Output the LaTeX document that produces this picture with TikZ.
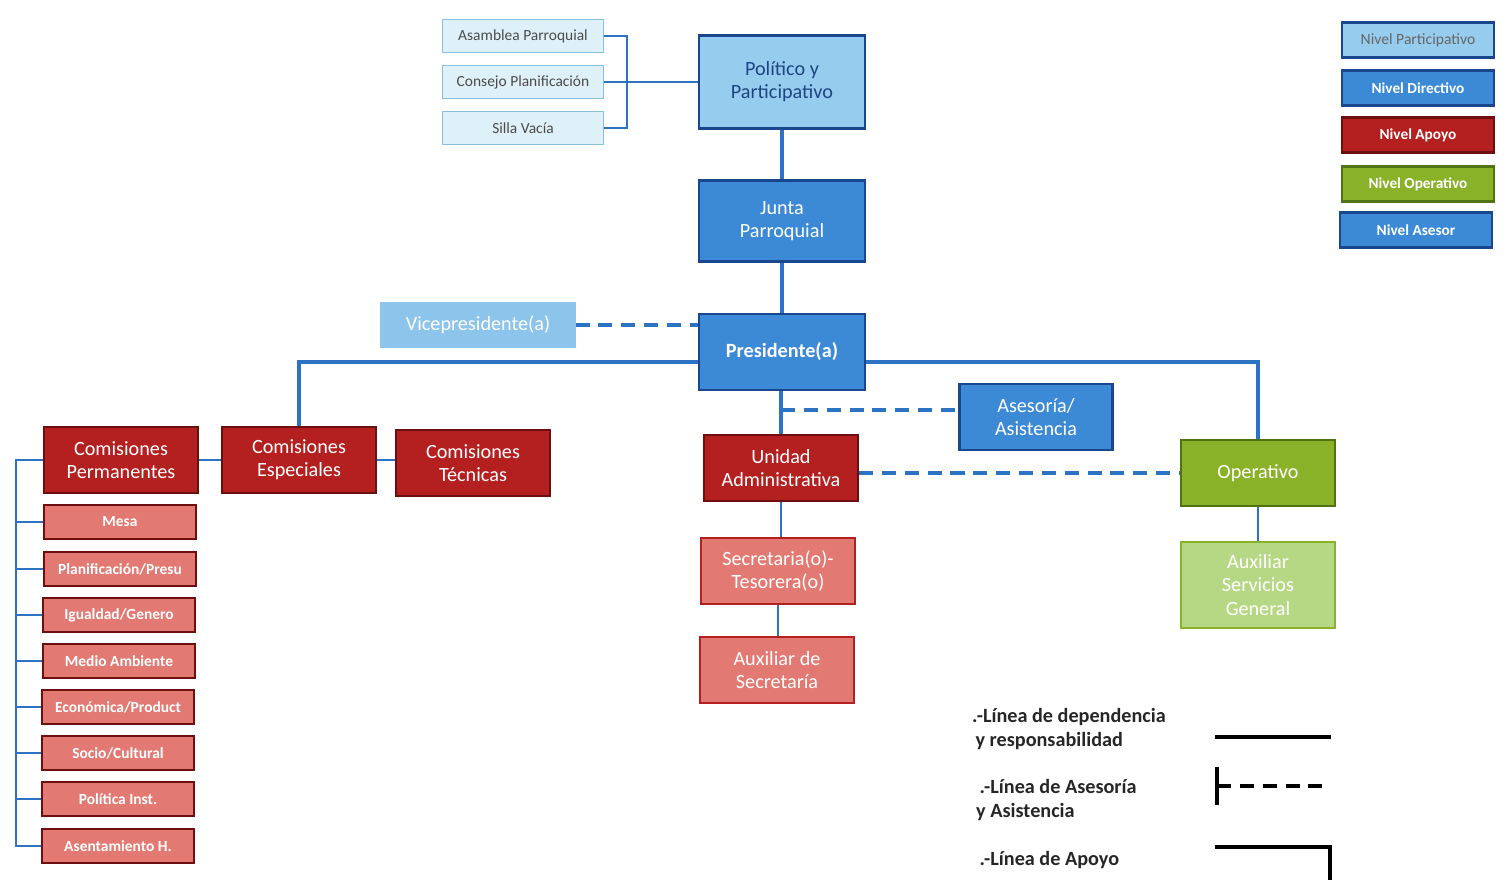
\documentclass[tikz,border=0pt]{standalone}
\usepackage{fontspec}
\setmainfont{Carlito}
\usepackage{tikz}
\usetikzlibrary{positioning}
\definecolor{linkblue}{RGB}{45,115,195}
\definecolor{partfill}{RGB}{150,205,238}
\definecolor{partdraw}{RGB}{140,190,222}
\definecolor{partpale}{RGB}{222,240,248}
\definecolor{partext}{RGB}{30,70,130}
\definecolor{vicefill}{RGB}{140,196,236}
\definecolor{dirfill}{RGB}{60,138,214}
\definecolor{dirdraw}{RGB}{25,70,140}
\definecolor{apofill}{RGB}{180,32,32}
\definecolor{apodraw}{RGB}{110,15,15}
\definecolor{apolight}{RGB}{226,122,115}
\definecolor{opefill}{RGB}{138,178,40}
\definecolor{opedraw}{RGB}{80,115,20}
\definecolor{opelight}{RGB}{182,216,132}
\tikzstyle{link} = [draw=linkblue, line width=2pt]
\tikzstyle{thinlink} = [draw=linkblue, line width=1.2pt]
\tikzstyle{advice} = [draw=linkblue, line width=2pt, dash pattern=on 8pt off 5pt]
\tikzstyle{unit} = [draw, line width=1.2pt, align=center, text=white, inner sep=1pt,
                    font=\fontsize{11.5}{13.2}\selectfont]
\tikzstyle{directive} = [unit, fill=dirfill, draw=dirdraw, minimum width=33.2mm]
\tikzstyle{support} = [unit, fill=apofill, draw=apodraw, minimum width=30.8mm, minimum height=13.2mm]
\tikzstyle{commission} = [unit, fill=apolight, draw=apodraw, minimum width=30.4mm, minimum height=6.8mm,
                          font=\bfseries\fontsize{8.8}{10}\selectfont]
\tikzstyle{assembly} = [draw=partdraw, line width=1.1pt, fill=partpale, text=black!70,
                        minimum width=32.2mm, minimum height=6.6mm, font=\fontsize{8.8}{10}\selectfont]
\tikzstyle{tier} = [unit, minimum width=30.4mm, minimum height=7mm, font=\bfseries\fontsize{8.7}{10}\selectfont]
\tikzstyle{legtext} = [align=left, anchor=west, text=black!85, font=\bfseries\fontsize{11.5}{13.2}\selectfont]
\tikzstyle{legline} = [draw=black, line width=2.2pt]

\begin{document}
\begin{tikzpicture}[x=0.2mm, y=-0.2mm]
	\useasboundingbox (0, 0) rectangle (1510, 880);

	% participative level
	\node (Asamblea) [assembly] at (523, 36) {Asamblea Parroquial};
	\node (Consejo) [assembly] at (523, 82) {Consejo Planificación};
	\node (Silla) [assembly] at (523, 128) {Silla Vacía};
	\node (Politico) [unit, fill=partfill, draw=dirdraw, text=partext, minimum width=33.2mm,
	                  minimum height=18.6mm] at (782, 82) {Político y\\Participativo};
	\coordinate (BraceTop) at (627, 36);
	\coordinate (BraceBot) at (627, 128);
	\draw [thinlink] (Asamblea) -- (BraceTop) -- (BraceBot) -- (Silla);
	\draw [thinlink] (Consejo) -- (Politico);

	% directive level
	\node (Junta) [directive, minimum height=16.2mm] at (782, 221) {Junta\\Parroquial};
	\node (Presidente) [directive, minimum height=15.2mm, font=\bfseries\fontsize{11.5}{13.2}\selectfont]
	      at (782, 352) {Presidente(a)};
	\node (Vice) [unit, fill=vicefill, draw=vicefill, minimum width=38.6mm, minimum height=8.8mm]
	      at (478, 325) {Vicepresidente(a)};
	\draw [link] (Politico) -- (Junta);
	\draw [link] (Junta) -- (Presidente);
	\draw [advice] (Vice.east) -- (Vice.east -| Presidente.west);

	% advisory level
	\node (Asesoria) [unit, fill=dirfill, draw=dirdraw, minimum width=30.6mm, minimum height=13.2mm]
	      at (1036, 417) {Asesoría/\\Asistencia};
	\coordinate (AsesTap) at (781, 410);
	\draw [advice] (AsesTap) -- (AsesTap -| Asesoria.west);

	% support level
	\node (ComPerm) [support] at (121, 460) {Comisiones\\Permanentes};
	\node (ComEsp) [support] at (299, 460) {Comisiones\\Especiales};
	\node (ComTec) [support] at (473, 463) {Comisiones\\Técnicas};
	\coordinate (EspTop) at (299, 362);
	\draw [link] (Presidente.west |- EspTop) -- (EspTop) -- (ComEsp);
	\draw [thinlink] (ComPerm) -- (ComEsp);
	\draw [thinlink] (ComEsp.east) -- (ComEsp.east -| ComTec.west);

	\node (Mesa) [commission] at (120, 522) {Mesa};
	\node (Planif) [commission] at (120, 569) {Planificación/Presu};
	\node (Igualdad) [commission] at (119, 615) {Igualdad/Genero};
	\node (Medio) [commission] at (119, 661) {Medio Ambiente};
	\node (Econ) [commission] at (118, 707) {Económica/Product};
	\node (Socio) [commission] at (118, 753) {Socio/Cultural};
	\node (PolInst) [commission] at (118, 799) {Política Inst.};
	\node (Asent) [commission] at (118, 846) {Asentamiento H.};
	\coordinate (SpineTop) at (16, 460);
	\coordinate (SpineBot) at (16, 846);
	\draw [thinlink] (ComPerm) -- (SpineTop) -- (SpineBot) -- (Asent);
	\draw [thinlink] (Mesa.west) -- (Mesa.west -| SpineTop);
	\draw [thinlink] (Planif.west) -- (Planif.west -| SpineTop);
	\draw [thinlink] (Igualdad.west) -- (Igualdad.west -| SpineTop);
	\draw [thinlink] (Medio.west) -- (Medio.west -| SpineTop);
	\draw [thinlink] (Econ.west) -- (Econ.west -| SpineTop);
	\draw [thinlink] (Socio.west) -- (Socio.west -| SpineTop);
	\draw [thinlink] (PolInst.west) -- (PolInst.west -| SpineTop);

	\node (Unidad) [support] at (781, 468) {Unidad\\Administrativa};
	\node (Secretaria) [support, fill=apolight, draw=apofill] at (778, 571) {Secretaria(o)-\\Tesorera(o)};
	\node (AuxSec) [support, fill=apolight, draw=apofill] at (777, 670) {Auxiliar de\\Secretaría};
	\draw [link] (Presidente.south -| Unidad) -- (Unidad);
	\draw [thinlink] (Unidad.south) -- (Unidad.south |- Secretaria.north);
	\draw [thinlink] (Secretaria.south) -- (Secretaria.south |- AuxSec.north);

	% operative level
	\node (Operativo) [support, fill=opefill, draw=opedraw] at (1258, 473) {Operativo};
	\node (AuxServ) [support, fill=opelight, draw=opefill, minimum height=17.2mm]
	      at (1258, 585) {Auxiliar\\Servicios\\General};
	\coordinate (OpTop) at (1258, 362);
	\draw [link] (Presidente.east |- OpTop) -- (OpTop) -- (Operativo);
	\draw [advice] (Unidad.east |- Operativo) -- (Operativo.west);
	\draw [thinlink] (Operativo) -- (AuxServ);

	% levels key
	\node (KeyPart) [tier, fill=partfill, draw=dirdraw, text=black!60,
	      font=\fontsize{8.9}{10}\selectfont] at (1418, 40) {Nivel Participativo};
	\node (KeyDir) [tier, fill=dirfill, draw=dirdraw] at (1418, 88) {Nivel Directivo};
	\node (KeyApoyo) [tier, fill=apofill, draw=apodraw] at (1418, 135) {Nivel Apoyo};
	\node (KeyOpe) [tier, fill=opefill, draw=opedraw] at (1418, 184) {Nivel Operativo};
	\node (KeyAses) [tier, fill=dirfill, draw=dirdraw] at (1416, 230) {Nivel Asesor};

	% lines key
	\node (LegDep) [legtext] at (966, 729) {.-Línea de dependencia\\\,y responsabilidad};
	\coordinate (DepA) at (1215, 737);
	\coordinate (DepB) at (1331, 737);
	\draw [legline] (DepA) -- (DepB);

	\node (LegAses) [legtext] at (970, 800) {\,.-Línea de Asesoría\\y Asistencia};
	\coordinate (AsesTickTop) at (1217, 767);
	\coordinate (AsesTickBot) at (1217, 805);
	\coordinate (AsesEnd) at (1328, 786);
	\draw [legline] (AsesTickTop) -- (AsesTickBot);
	\draw [legline, dash pattern=on 8pt off 5pt] (AsesTickTop |- AsesEnd) -- (AsesEnd);

	\node (LegApoyo) [legtext] at (970, 860) {\,.-Línea de Apoyo};
	\coordinate (ApoyoA) at (1215, 847);
	\coordinate (ApoyoB) at (1330, 847);
	\coordinate (ApoyoC) at (1330, 882);
	\draw [legline] (ApoyoA) -- (ApoyoB) -- (ApoyoC);
\end{tikzpicture}
\end{document}
